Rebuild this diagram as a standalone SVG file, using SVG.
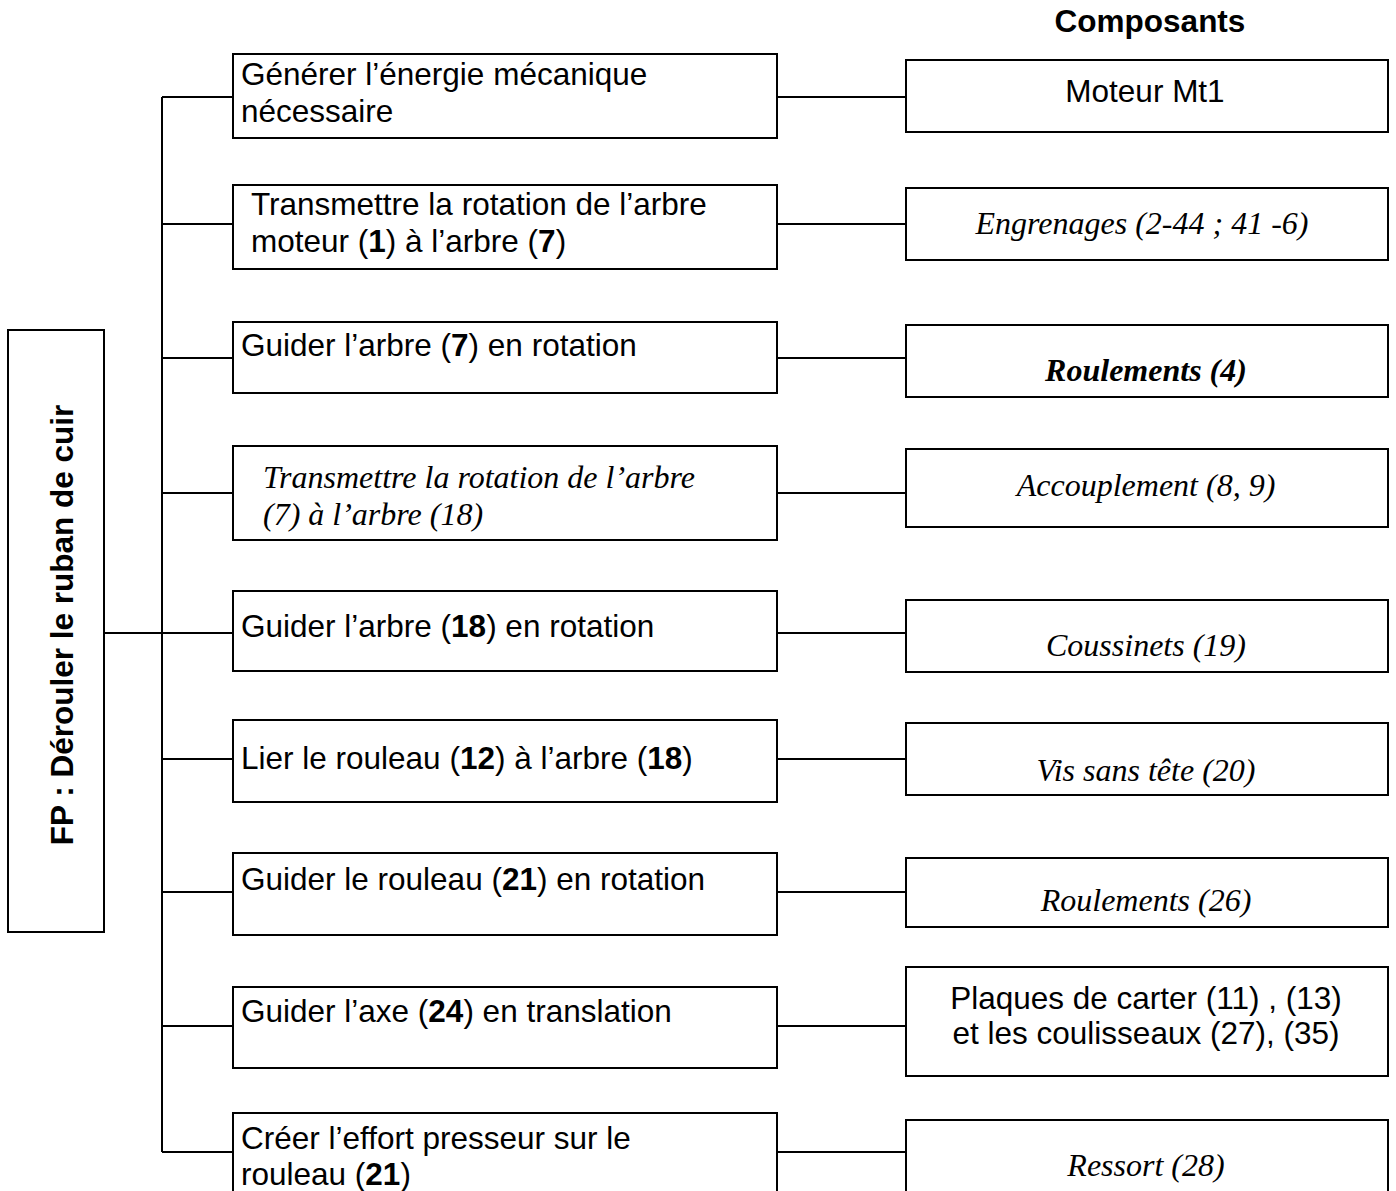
<svg xmlns="http://www.w3.org/2000/svg" width="1396" height="1191" viewBox="0 0 1396 1191">
<style>
.n{fill:#fff;stroke:#000;stroke-width:2}
.c line{stroke:#000;stroke-width:2}
.a{font-family:"Liberation Sans",Arial,sans-serif;font-size:31.5px;fill:#000}
.t{font-family:"Liberation Serif","Times New Roman",serif;font-style:italic;font-size:32px;fill:#000}
.m{text-anchor:middle}
.b{font-weight:bold}
</style>
<rect width="1396" height="1191" fill="#fff"/>
<text class="a b m" x="1150" y="32" font-size="29">Composants</text>
<g class="c" id="connectors">
<line x1="104" y1="633" x2="162" y2="633"/>
<line x1="162" y1="97" x2="162" y2="1152"/>
<line x1="162" y1="97" x2="233" y2="97"/>
<line x1="162" y1="224" x2="233" y2="224"/>
<line x1="162" y1="358" x2="233" y2="358"/>
<line x1="162" y1="493" x2="233" y2="493"/>
<line x1="162" y1="633" x2="233" y2="633"/>
<line x1="162" y1="759" x2="233" y2="759"/>
<line x1="162" y1="892" x2="233" y2="892"/>
<line x1="162" y1="1026" x2="233" y2="1026"/>
<line x1="162" y1="1152" x2="233" y2="1152"/>
<line x1="777" y1="97" x2="906" y2="97"/>
<line x1="777" y1="224" x2="906" y2="224"/>
<line x1="777" y1="358" x2="906" y2="358"/>
<line x1="777" y1="493" x2="906" y2="493"/>
<line x1="777" y1="633" x2="906" y2="633"/>
<line x1="777" y1="759" x2="906" y2="759"/>
<line x1="777" y1="892" x2="906" y2="892"/>
<line x1="777" y1="1026" x2="906" y2="1026"/>
<line x1="777" y1="1152" x2="906" y2="1152"/>
</g>
<g id="fp">
<rect class="n" x="8" y="330" width="96" height="602"/>
<text class="a b m" transform="translate(73,625) rotate(-90)">FP : Dérouler le ruban de cuir</text>
</g>
<g id="f1"><rect class="n" x="233" y="54" width="544" height="84"/>
<text class="a" x="241" y="85">Générer l’énergie mécanique</text>
<text class="a" x="241" y="122">nécessaire</text></g>
<g id="f2"><rect class="n" x="233" y="185" width="544" height="84"/>
<text class="a" x="251" y="215">Transmettre la rotation de l’arbre</text>
<text class="a" x="251" y="252">moteur (<tspan class="b">1</tspan>) à l’arbre (<tspan class="b">7</tspan>)</text></g>
<g id="f3"><rect class="n" x="233" y="322" width="544" height="71"/>
<text class="a" x="241" y="356">Guider l’arbre (<tspan class="b">7</tspan>) en rotation</text></g>
<g id="f4"><rect class="n" x="233" y="446" width="544" height="94"/>
<text class="t" x="263" y="488">Transmettre la rotation de l’arbre</text>
<text class="t" x="263" y="525">(7) à l’arbre (18)</text></g>
<g id="f5"><rect class="n" x="233" y="591" width="544" height="80"/>
<text class="a" x="241" y="637">Guider l’arbre (<tspan class="b">18</tspan>) en rotation</text></g>
<g id="f6"><rect class="n" x="233" y="720" width="544" height="82"/>
<text class="a" x="241" y="769">Lier le rouleau (<tspan class="b">12</tspan>) à l’arbre (<tspan class="b">18</tspan>)</text></g>
<g id="f7"><rect class="n" x="233" y="853" width="544" height="82"/>
<text class="a" x="241" y="890">Guider le rouleau (<tspan class="b">21</tspan>) en rotation</text></g>
<g id="f8"><rect class="n" x="233" y="987" width="544" height="81"/>
<text class="a" x="241" y="1022">Guider l’axe (<tspan class="b">24</tspan>) en translation</text></g>
<g id="f9"><rect class="n" x="233" y="1113" width="544" height="90"/>
<text class="a" x="241" y="1149">Créer l’effort presseur sur le</text>
<text class="a" x="241" y="1185">rouleau (<tspan class="b">21</tspan>)</text></g>
<g id="c1"><rect class="n" x="906" y="60" width="482" height="72"/>
<text class="a m" x="1145" y="102">Moteur Mt1</text></g>
<g id="c2"><rect class="n" x="906" y="188" width="482" height="72"/>
<text class="t m" x="1142" y="234">Engrenages (2-44 ; 41 -6)</text></g>
<g id="c3"><rect class="n" x="906" y="325" width="482" height="72"/>
<text class="t b m" x="1146" y="381">Roulements (4)</text></g>
<g id="c4"><rect class="n" x="906" y="449" width="482" height="78"/>
<text class="t m" x="1146" y="496">Accouplement (8, 9)</text></g>
<g id="c5"><rect class="n" x="906" y="600" width="482" height="72"/>
<text class="t m" x="1146" y="656">Coussinets (19)</text></g>
<g id="c6"><rect class="n" x="906" y="723" width="482" height="72"/>
<text class="t m" x="1146" y="781">Vis sans tête (20)</text></g>
<g id="c7"><rect class="n" x="906" y="858" width="482" height="69"/>
<text class="t m" x="1146" y="911">Roulements (26)</text></g>
<g id="c8"><rect class="n" x="906" y="967" width="482" height="109"/>
<text class="a m" x="1146" y="1009">Plaques de carter (11) , (13)</text>
<text class="a m" x="1146" y="1044">et les coulisseaux (27), (35)</text></g>
<g id="c9"><rect class="n" x="906" y="1120" width="482" height="80"/>
<text class="t m" x="1146" y="1176">Ressort (28)</text></g>
</svg>
